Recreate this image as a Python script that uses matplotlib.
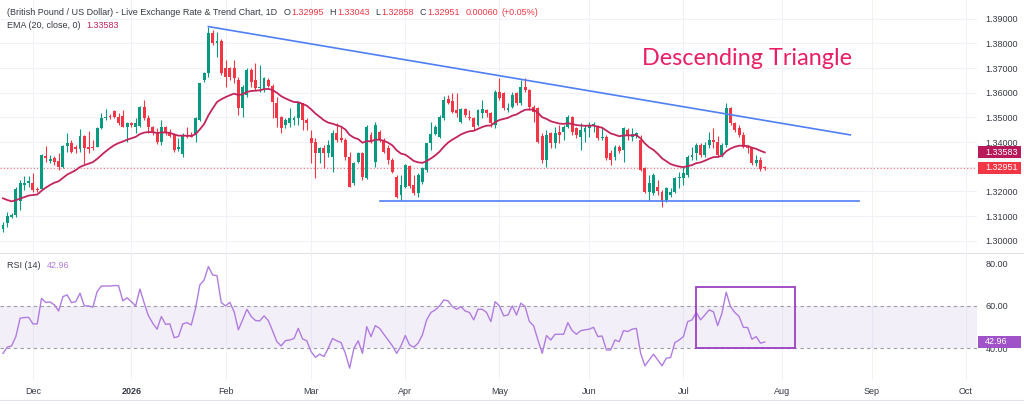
import numpy as np
import pandas as pd
import matplotlib
matplotlib.use('Agg')
import matplotlib.pyplot as plt
from matplotlib.lines import Line2D
from matplotlib.patches import Rectangle

# GBP/USD daily candles, first bar 2025-11-20, one bar per weekday
start_date = '2025-11-20'

opens = [
    1.3046, 1.3071, 1.3098, 1.3104, 1.3162, 1.3226, 1.3233, 1.3233, 1.3211, 1.3208,
    1.3343, 1.3323, 1.3334, 1.3325, 1.3298, 1.3384, 1.3395, 1.3379, 1.3371, 1.3425,
    1.3379, 1.3381, 1.3381, 1.3456, 1.3496, 1.3506, 1.3527, 1.3503, 1.3506, 1.3462,
    1.3479, 1.3462, 1.3465, 1.3541, 1.3496, 1.3462, 1.3442, 1.3402, 1.3462, 1.3435,
    1.3429, 1.3371, 1.3352, 1.3429, 1.3429, 1.3429, 1.3490, 1.3652, 1.3679, 1.3841,
    1.3800, 1.3811, 1.3699, 1.3699, 1.3699, 1.3652, 1.3537, 1.3591, 1.3692, 1.3652,
    1.3618, 1.3611, 1.3652, 1.3627, 1.3557, 1.3500, 1.3469, 1.3476, 1.3489, 1.3496,
    1.3557, 1.3489, 1.3415, 1.3402, 1.3354, 1.3375, 1.3354, 1.3341, 1.3435, 1.3415,
    1.3408, 1.3341, 1.3233, 1.3321, 1.3354, 1.3253, 1.3429, 1.3320, 1.3442, 1.3408,
    1.3375, 1.3327, 1.3260, 1.3185, 1.3219, 1.3303, 1.3226, 1.3192, 1.3240, 1.3287,
    1.3395, 1.3433, 1.3422, 1.3496, 1.3573, 1.3568, 1.3530, 1.3483, 1.3533, 1.3503,
    1.3496, 1.3469, 1.3516, 1.3530, 1.3516, 1.3469, 1.3604, 1.3598, 1.3530, 1.3544,
    1.3598, 1.3557, 1.3622, 1.3611, 1.3544, 1.3537, 1.3425, 1.3327, 1.3435, 1.3395,
    1.3442, 1.3442, 1.3462, 1.3503, 1.3456, 1.3422, 1.3442, 1.3456, 1.3469, 1.3462,
    1.3415, 1.3422, 1.3354, 1.3341, 1.3379, 1.3368, 1.3449, 1.3422, 1.3425, 1.3408,
    1.3294, 1.3199, 1.3192, 1.3219, 1.3199, 1.3165, 1.3185, 1.3199, 1.3253, 1.3253,
    1.3267, 1.3341, 1.3354, 1.3388, 1.3348, 1.3388, 1.3408, 1.3402, 1.3348, 1.3388,
    1.3537, 1.3476, 1.3456, 1.3429, 1.3379, 1.3375, 1.3314, 1.3327, 1.32995,
]
highs = [
    1.3077, 1.3118, 1.3114, 1.3219, 1.3246, 1.3262, 1.3262, 1.3273, 1.3219, 1.3350,
    1.3384, 1.3347, 1.3343, 1.3354, 1.3388, 1.3438, 1.3408, 1.3388, 1.3452, 1.3429,
    1.3446, 1.3408, 1.3462, 1.3516, 1.3533, 1.3514, 1.3530, 1.3516, 1.3530, 1.3483,
    1.3483, 1.3496, 1.3546, 1.3571, 1.3510, 1.3465, 1.3456, 1.3490, 1.3465, 1.3451,
    1.3435, 1.3415, 1.3435, 1.3462, 1.3442, 1.3503, 1.3641, 1.3685, 1.3868, 1.3854,
    1.3847, 1.3816, 1.3733, 1.3706, 1.3733, 1.3665, 1.3631, 1.3699, 1.3699, 1.3719,
    1.3712, 1.3665, 1.3658, 1.3635, 1.3584, 1.3506, 1.3496, 1.3537, 1.3506, 1.3564,
    1.3560, 1.3496, 1.3449, 1.3415, 1.3381, 1.3388, 1.3408, 1.3449, 1.3476, 1.3462,
    1.3415, 1.3361, 1.3321, 1.3361, 1.3361, 1.3469, 1.3442, 1.3483, 1.3449, 1.3415,
    1.3388, 1.3334, 1.3267, 1.3267, 1.3311, 1.3307, 1.3267, 1.3273, 1.3300, 1.3398,
    1.3483, 1.3469, 1.3510, 1.3587, 1.3591, 1.3598, 1.3598, 1.3537, 1.3537, 1.3530,
    1.3503, 1.3533, 1.3571, 1.3533, 1.3523, 1.3611, 1.3658, 1.3604, 1.3557, 1.3604,
    1.3604, 1.3652, 1.3658, 1.3614, 1.3550, 1.3544, 1.3435, 1.3449, 1.3442, 1.3462,
    1.3469, 1.3469, 1.3510, 1.3506, 1.3462, 1.3476, 1.3469, 1.3483, 1.3483, 1.3469,
    1.3462, 1.3429, 1.3368, 1.3388, 1.3388, 1.3462, 1.3456, 1.3456, 1.3442, 1.3429,
    1.3300, 1.3267, 1.3273, 1.3246, 1.3206, 1.3219, 1.3213, 1.3260, 1.3280, 1.3300,
    1.3348, 1.3381, 1.3395, 1.3395, 1.3402, 1.3442, 1.3456, 1.3425, 1.3395, 1.3557,
    1.3544, 1.3483, 1.3469, 1.3442, 1.3388, 1.3381, 1.3348, 1.3341, 1.33043,
]
lows = [
    1.3037, 1.3057, 1.3091, 1.3098, 1.3125, 1.3206, 1.3219, 1.3199, 1.3199, 1.3206,
    1.3321, 1.3316, 1.3307, 1.3287, 1.3294, 1.3361, 1.3354, 1.3354, 1.3361, 1.3311,
    1.3354, 1.3368, 1.3379, 1.3452, 1.3489, 1.3492, 1.3496, 1.3469, 1.3460, 1.3402,
    1.3462, 1.3435, 1.3460, 1.3490, 1.3435, 1.3429, 1.3392, 1.3388, 1.3429, 1.3419,
    1.3361, 1.3365, 1.3341, 1.3415, 1.3419, 1.3402, 1.3487, 1.3645, 1.3665, 1.3794,
    1.3746, 1.3672, 1.3625, 1.3652, 1.3638, 1.3510, 1.3503, 1.3584, 1.3625, 1.3611,
    1.3604, 1.3604, 1.3622, 1.3496, 1.3462, 1.3435, 1.3456, 1.3462, 1.3469, 1.3469,
    1.3449, 1.3449, 1.3314, 1.3253, 1.3314, 1.3294, 1.3341, 1.3280, 1.3402, 1.3402,
    1.3327, 1.3217, 1.3226, 1.3314, 1.3246, 1.3249, 1.3395, 1.3300, 1.3402, 1.3354,
    1.3310, 1.3273, 1.3172, 1.3165, 1.3213, 1.3213, 1.3185, 1.3179, 1.3230, 1.3280,
    1.3368, 1.3429, 1.3415, 1.3489, 1.3555, 1.3516, 1.3503, 1.3476, 1.3503, 1.3489,
    1.3449, 1.3465, 1.3496, 1.3503, 1.3462, 1.3456, 1.3571, 1.3530, 1.3523, 1.3537,
    1.3550, 1.3550, 1.3604, 1.3530, 1.3483, 1.3395, 1.3314, 1.3300, 1.3375, 1.3375,
    1.3395, 1.3408, 1.3456, 1.3429, 1.3415, 1.3368, 1.3402, 1.3422, 1.3442, 1.3408,
    1.3408, 1.3327, 1.3307, 1.3327, 1.3354, 1.3321, 1.3408, 1.3406, 1.3415, 1.3284,
    1.3192, 1.3165, 1.3185, 1.3185, 1.3138, 1.3158, 1.3179, 1.3192, 1.3213, 1.3226,
    1.3260, 1.3327, 1.3327, 1.3341, 1.3341, 1.3375, 1.3375, 1.3341, 1.3341, 1.3379,
    1.3469, 1.3442, 1.3422, 1.3375, 1.3354, 1.3307, 1.3303, 1.3284, 1.32858,
]
closes = [
    1.3065, 1.3100, 1.3106, 1.3210, 1.3233, 1.3233, 1.3244, 1.3206, 1.3206, 1.3346,
    1.3335, 1.3330, 1.3321, 1.3298, 1.3384, 1.3395, 1.3361, 1.3371, 1.3425, 1.3375,
    1.3372, 1.3375, 1.3456, 1.3496, 1.3503, 1.3503, 1.3500, 1.3476, 1.3462, 1.3479,
    1.3469, 1.3476, 1.3541, 1.3496, 1.3460, 1.3438, 1.3402, 1.3462, 1.3435, 1.3425,
    1.3368, 1.3379, 1.3429, 1.3419, 1.3422, 1.3496, 1.3638, 1.3679, 1.3841, 1.3800,
    1.3811, 1.3679, 1.3665, 1.3662, 1.3658, 1.3537, 1.3625, 1.3692, 1.3645, 1.3618,
    1.3625, 1.3658, 1.3627, 1.3564, 1.3496, 1.3456, 1.3489, 1.3496, 1.3496, 1.3557,
    1.3489, 1.3476, 1.3395, 1.3354, 1.3375, 1.3354, 1.3388, 1.3435, 1.3408, 1.3408,
    1.3341, 1.3219, 1.3314, 1.3354, 1.3260, 1.3462, 1.3402, 1.3470, 1.3408, 1.3361,
    1.3327, 1.3280, 1.3179, 1.3226, 1.3307, 1.3222, 1.3195, 1.3267, 1.3294, 1.3395,
    1.3433, 1.3462, 1.3503, 1.3571, 1.3560, 1.3523, 1.3516, 1.3533, 1.3510, 1.3496,
    1.3462, 1.3530, 1.3533, 1.3516, 1.3476, 1.3604, 1.3577, 1.3537, 1.3537, 1.3591,
    1.3557, 1.3622, 1.3611, 1.3544, 1.3523, 1.3402, 1.3327, 1.3429, 1.3395, 1.3435,
    1.3429, 1.3462, 1.3503, 1.3442, 1.3429, 1.3449, 1.3456, 1.3469, 1.3473, 1.3415,
    1.3422, 1.3334, 1.3327, 1.3379, 1.3365, 1.3456, 1.3429, 1.3433, 1.3435, 1.3287,
    1.3199, 1.3233, 1.3267, 1.3203, 1.3158, 1.3213, 1.3199, 1.3253, 1.3260, 1.3273,
    1.3341, 1.3348, 1.3388, 1.3348, 1.3388, 1.3408, 1.3402, 1.3348, 1.3388, 1.3537,
    1.3476, 1.3449, 1.3429, 1.3381, 1.3375, 1.3314, 1.3327, 1.32891, 1.32951,
]
rsi = [
    37.6, 40.5, 41.1, 45.5, 54.2, 54.5, 54.6, 51.5, 51.5, 63.6,
    61.6, 61.9, 60.5, 57.6, 64.4, 65.2, 61.6, 62.0, 66.0, 60.0,
    60.0, 59.4, 66.8, 69.4, 69.4, 69.4, 69.6, 69.6, 62.4, 63.8,
    62.0, 60.0, 68.0, 61.3, 55.3, 51.8, 49.0, 55.0, 51.3, 51.5,
    45.0, 45.5, 51.5, 52.1, 51.0, 58.9, 69.9, 72.3, 78.6, 74.6,
    74.3, 61.6, 60.0, 61.7, 57.3, 48.7, 53.4, 58.4, 55.0, 53.1,
    52.9, 55.3, 53.1, 48.2, 43.1, 41.1, 43.6, 43.9, 44.6, 49.4,
    44.4, 43.5, 38.4, 35.7, 37.2, 36.1, 40.0, 44.6, 43.5, 42.7,
    37.6, 30.6, 40.0, 43.5, 37.6, 50.2, 45.5, 50.7, 49.4, 46.6,
    43.9, 41.1, 37.6, 41.1, 46.0, 41.6, 40.5, 42.4, 46.3, 53.4,
    56.9, 58.1, 60.0, 62.8, 62.4, 59.7, 58.4, 59.7, 57.6, 56.9,
    53.4, 58.4, 58.4, 56.9, 52.6, 62.0, 60.0, 55.3, 55.7, 60.0,
    55.7, 61.3, 59.7, 52.6, 50.6, 43.9, 37.6, 46.0, 43.9, 46.6,
    46.6, 46.6, 52.1, 48.3, 46.6, 48.3, 48.7, 49.0, 49.9, 45.5,
    45.8, 39.2, 39.2, 43.9, 43.1, 48.3, 47.9, 49.0, 49.4, 37.6,
    31.7, 34.5, 37.2, 34.5, 31.7, 35.3, 35.6, 42.7, 43.9, 45.5,
    52.6, 53.4, 56.9, 53.4, 55.7, 58.1, 57.3, 50.7, 56.5, 66.5,
    59.7, 56.9, 55.0, 49.9, 49.8, 44.3, 45.5, 42.4, 42.96,
]

ema_period = 20
ema_seed = 1.3172       # EMA value at the first visible bar
ema_last = 1.33583      # value shown in the legend

month_labels = ['Dec', '2026', 'Feb', 'Mar', 'Apr', 'May', 'Jun', 'Jul', 'Aug', 'Sep', 'Oct']
price_ticks = [1.30, 1.31, 1.32, 1.33, 1.34, 1.35, 1.36, 1.37, 1.38, 1.39]
rsi_ticks = [40, 60, 80]

upper_line_dates = ['2026-01-27', '2026-08-25']
upper_line_prices = [1.3868, 1.3429]
lower_line_dates = ['2026-03-24', '2026-08-27']
lower_line_prices = [1.3161, 1.3161]
rsi_box_dates = ['2026-07-06', '2026-08-06']
rsi_box_levels = [40.0, 69.0]

UP = '#089981'
DOWN = '#f23645'
EMA_COL = '#c2255c'
RSI_COL = '#b07ce0'
TXT = '#363a45'
GRID = '#f0f2f7'
FS = 6.5

plt.rcParams['font.family'] = ['Liberation Sans', 'DejaVu Sans']

W, H = 1024, 404
fig = plt.figure(figsize=(W / 100, H / 100), dpi=100)
ax = fig.add_axes([0, 1 - 252 / H, 977 / W, 252 / H])
ax_r = fig.add_axes([0, 1 - 380 / H, 977 / W, 127 / H], sharex=ax)

n = len(closes)
x = np.arange(n)
o = np.array(opens)
h = np.array(highs)
l = np.array(lows)
c = np.array(closes)
all_dates = pd.bdate_range(start_date, periods=240)


def bar_of(d):
    return all_dates.get_loc(pd.Timestamp(d))


# EMA(20) of the closes
alpha = 2 / (ema_period + 1)
ema = [ema_seed]
for v in c[1:]:
    ema.append(ema[-1] + alpha * (v - ema[-1]))

# month ticks at the first bar of each month
per = all_dates.to_period('M')
month_pos = [i for i in range(1, len(all_dates)) if per[i] != per[i - 1]][:len(month_labels)]

# ---- main panel
for p in price_ticks:
    ax.axhline(p, color=GRID, lw=0.8, zorder=0)
for m in month_pos:
    ax.axvline(m, color=GRID, lw=0.8, zorder=0)

cols = np.where(c >= o, UP, DOWN)
ax.vlines(x, l, h, colors=cols, lw=0.8, zorder=2)
body = np.maximum(np.abs(c - o), 0.00007)
ax.bar(x, body, bottom=np.minimum(o, c), width=0.68, color=cols, lw=0, zorder=3)

ax.plot(x, ema, color=EMA_COL, lw=1.3, zorder=4)
ax.axhline(c[-1], color=DOWN, lw=0.8, ls=(0, (1, 2)), alpha=0.7, zorder=1)

ax.plot([bar_of(d) for d in upper_line_dates], upper_line_prices, color='#4f7ff5', lw=1.2, zorder=5)
ax.plot([bar_of(d) for d in lower_line_dates], lower_line_prices, color='#4f7ff5', lw=1.2, zorder=5)

ax.set_xlim(-0.7, 227.6)
ax.set_ylim(1.29543, 1.39758)
ax.yaxis.tick_right()
ax.set_yticks(price_ticks)
ax.set_yticklabels(['' if abs(p - 1.33) < 1e-9 else f'{p:.5f}' for p in price_ticks])
ax.tick_params(axis='y', length=0, pad=6, labelsize=FS, labelcolor=TXT)
ax.tick_params(axis='x', length=0, labelbottom=False)
for s in ax.spines.values():
    s.set_visible(False)

fig.text(747 / W, 1 - 65 / H, 'Descending Triangle', color='#e91e63', fontsize=16.8,
         family='Lato', ha='center', va='baseline')

# ---- RSI panel
for m in month_pos:
    ax_r.axvline(m, color=GRID, lw=0.8, zorder=0)
ax_r.axhspan(40, 60, color='#7e57c2', alpha=0.09, lw=0, zorder=0)
for lv in (40, 60):
    ax_r.axhline(lv, color='#9a9ca6', lw=0.8, ls=(0, (3, 3)), zorder=1)
ax_r.plot(x, rsi, color=RSI_COL, lw=1.0, zorder=3)
bx0, bx1 = bar_of(rsi_box_dates[0]), bar_of(rsi_box_dates[1])
ax_r.add_patch(Rectangle((bx0, rsi_box_levels[0]), bx1 - bx0, rsi_box_levels[1] - rsi_box_levels[0],
                         fill=False, ec='#9c3fc2', lw=1.3, zorder=4))
ax_r.set_ylim(25, 85)
ax_r.yaxis.tick_right()
ax_r.set_yticks(rsi_ticks)
ax_r.set_yticklabels([f'{v:.2f}' for v in rsi_ticks])
ax_r.tick_params(axis='y', length=0, pad=6, labelsize=FS, labelcolor=TXT)
ax_r.set_xticks(month_pos)
ax_r.set_xticklabels(month_labels)
ax_r.tick_params(axis='x', length=0, pad=5, labelsize=FS, labelcolor=TXT)
ax_r.get_xticklabels()[1].set_fontweight('bold')
for s in ax_r.spines.values():
    s.set_visible(False)

# panel separators
for yy in (252.5, 400):
    fig.add_artist(Line2D([0, 1], [1 - yy / H] * 2, color='#e0e3eb', lw=0.8))


def scale_label(axis, value, text, color):
    # coloured value box on the right price scale, 43 x 12 px, placed in figure pixels
    y_px = axis.transData.transform((0, value))[1]
    fig.add_artist(Rectangle((978 / W, (y_px - 6) / H), 43 / W, 12 / H,
                             transform=fig.transFigure, fc=color, ec='none', zorder=10))
    fig.text(985 / W, y_px / H, text, fontsize=FS, color='white', va='center', ha='left',
             zorder=11)


scale_label(ax, ema_last, f'{ema_last:.5f}', '#b8195a')
scale_label(ax, c[-1], f'{c[-1]:.5f}', DOWN)
scale_label(ax_r, rsi[-1], f'{rsi[-1]:.2f}', '#a052c8')

# ---- legend texts, drawn piece by piece
renderer = fig.canvas.get_renderer()


def put_parts(x_px, y_px, parts, size=FS):
    for s, col, gap in parts:
        t = fig.text(x_px / W, 1 - y_px / H, s, color=col, fontsize=size, va='center', ha='left')
        x_px += t.get_window_extent(renderer).width + gap


chg = c[-1] - c[-2]
put_parts(7, 12.5, [
    ('(British Pound / US Dollar) - Live Exchange Rate & Trend Chart, 1D', TXT, 6),
    ('O', TXT, 1), (f'{o[-1]:.5f}', DOWN, 6),
    ('H', TXT, 1), (f'{h[-1]:.5f}', DOWN, 6),
    ('L', TXT, 1), (f'{l[-1]:.5f}', DOWN, 6),
    ('C', TXT, 1), (f'{c[-1]:.5f}', DOWN, 6),
    (f'{chg:.5f}', DOWN, 3), (f'(+{chg / c[-2] * 100:.2f}%)', DOWN, 0),
])
put_parts(7, 25, [('EMA (20, close, 0)', TXT, 6), (f'{ema_last:.5f}', EMA_COL, 0)])
put_parts(7, 265, [('RSI (14)', TXT, 6), (f'{rsi[-1]:.2f}', RSI_COL, 0)])

fig.savefig('out.png', dpi=100, facecolor='white')
